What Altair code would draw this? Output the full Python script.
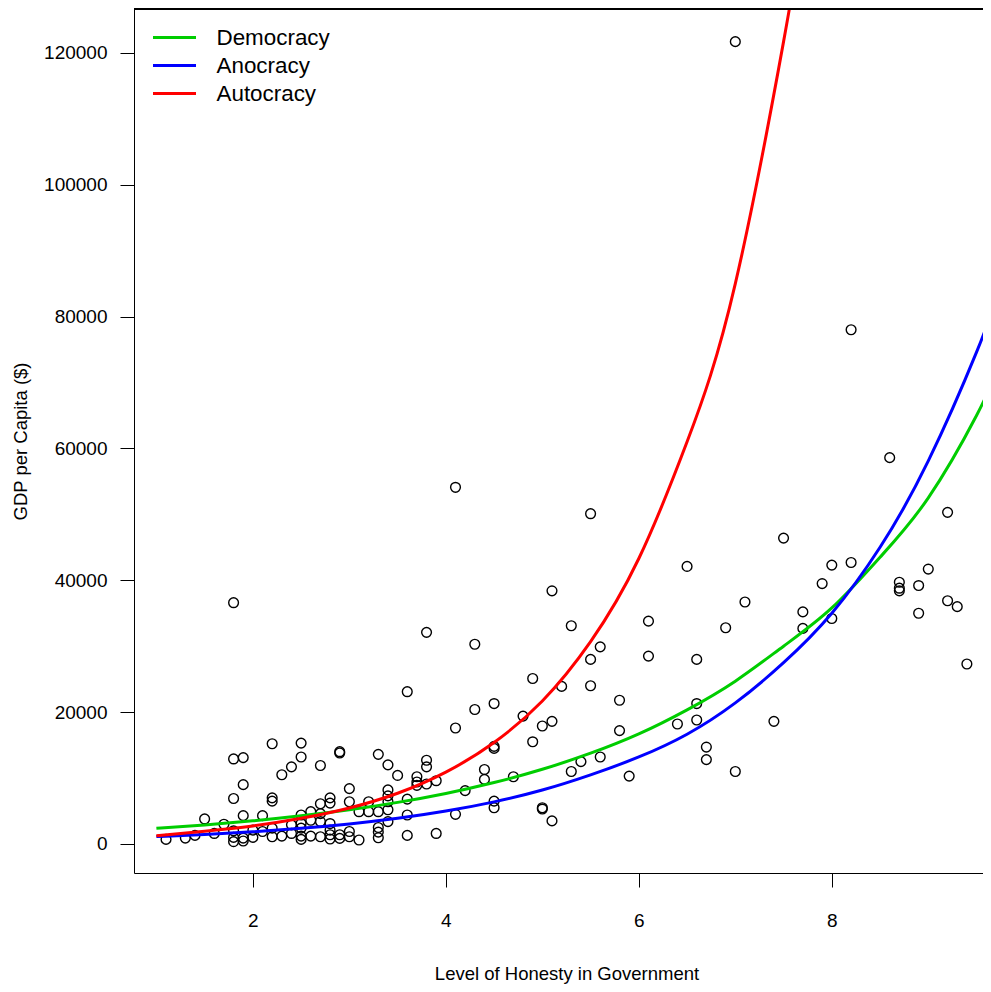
import altair as alt
import pandas as pd

# ---- scatter data ----
honesty = [
    1.1, 1.3, 1.4, 1.5, 1.6, 1.7,
    1.8, 1.8, 1.8, 1.8, 1.8, 1.8,
    1.9, 1.9, 1.9, 1.9, 1.9,
    2.0, 2.0,
    2.1, 2.1,
    2.2, 2.2, 2.2, 2.2, 2.2,
    2.3, 2.3,
    2.4, 2.4, 2.4,
    2.5, 2.5, 2.5, 2.5, 2.5, 2.5, 2.5,
    2.6, 2.6, 2.6,
    2.7, 2.7, 2.7, 2.7, 2.7,
    2.8, 2.8, 2.8, 2.8, 2.8, 2.8,
    2.9, 2.9, 2.9, 2.9,
    3.0, 3.0, 3.0, 3.0,
    3.1, 3.1,
    3.2, 3.2,
    3.3, 3.3, 3.3, 3.3, 3.3,
    3.4, 3.4, 3.4, 3.4, 3.4, 3.4,
    3.5,
    3.6, 3.6, 3.6, 3.6,
    3.7, 3.7, 3.7,
    3.8, 3.8, 3.8, 3.8,
    3.9, 3.9,
    4.1, 4.1, 4.1,
    4.2,
    4.3, 4.3,
    4.4, 4.4,
    4.5, 4.5, 4.5, 4.5, 4.5,
    4.7, 4.8,
    4.9, 4.9,
    5.0, 5.0, 5.0,
    5.1, 5.1, 5.1,
    5.2,
    5.3, 5.3,
    5.4,
    5.5, 5.5, 5.5,
    5.6, 5.6,
    5.8, 5.8,
    5.9,
    6.1, 6.1,
    6.4, 6.5,
    6.6, 6.6, 6.6,
    6.7, 6.7,
    6.9,
    7.0, 7.0,
    7.1, 7.4, 7.5,
    7.7, 7.7,
    7.9,
    8.0, 8.0,
    8.2, 8.2,
    8.6,
    8.7, 8.7, 8.7,
    8.9, 8.9,
    9.0,
    9.2, 9.2,
    9.3, 9.4,
]
gdp = [
    700, 900, 1300, 3800, 1600, 3000,
    36600, 12900, 6900, 2000, 1000, 350,
    13100, 9000, 4300, 900, 450,
    2100, 1000,
    4300, 1900,
    15200, 7000, 6500, 2400, 1100,
    10500, 1200,
    11700, 2900, 1600,
    15300, 13200, 4400, 3100, 2400, 1200, 700,
    4900, 3600, 1200,
    11900, 6100, 4600, 3400, 1100,
    7000, 6200, 3100, 2100, 1400, 750,
    14000, 13800, 1400, 850,
    8400, 6400, 1900, 1100,
    4900, 600,
    6400, 4900,
    13600, 4900, 2500, 1800, 950,
    12000, 8200, 7300, 6400, 5200, 3400,
    10400,
    23100, 6800, 4400, 1300,
    10200, 9400, 8900,
    32100, 12700, 11700, 9100,
    9600, 1600,
    54100, 17600, 4500,
    8100,
    30300, 20400,
    11300, 9800,
    21300, 14800, 14500, 6500, 5500,
    10200, 19400,
    25100, 15500,
    17900, 5500, 5300,
    38400, 18600, 3500,
    23900,
    33100, 11000,
    12500,
    50100, 28000, 24000,
    29900, 13200,
    21800, 17200,
    10300,
    33800, 28500,
    18200, 42100,
    28000, 21300, 18800,
    14700, 12800,
    32800,
    121700, 11000,
    36700, 18600, 46400,
    35200, 32700,
    39500,
    42300, 34200,
    78000, 42700,
    58600,
    39700, 38800, 38400,
    39200, 35000,
    41700,
    50300, 36900,
    36000, 27300,
]

# ---- fitted curves ----
curve_x = [1.0, 1.5, 2.0, 2.5, 3.0, 3.5, 4.0, 4.5, 5.0, 5.5,
           6.0, 6.5, 7.0, 7.5, 8.0, 8.5, 9.0, 9.5, 9.7]
democracy_fit = [2380, 2890, 3510, 4270, 5190, 6310, 7670, 9320, 11330, 13770,
                 16700, 20350, 24700, 30000, 35800, 43500, 52500, 65000, 71400]
anocracy_fit = [1130, 1450, 1850, 2375, 3040, 3890, 4990, 6390, 8180, 10480,
                13200, 16650, 21400, 27500, 35000, 45000, 58100, 74600, 82600]
auto_x = [1.0, 1.5, 2.0, 2.5, 3.0, 3.5, 4.0, 4.5, 5.0, 5.5,
          6.0, 6.5, 7.0, 7.5, 7.6]
autocracy_fit = [1260, 1940, 2740, 3900, 5470, 7700, 10900, 15400, 21700, 30700,
                 43300, 61000, 85000, 121700, 130600]

regimes = ["Democracy", "Anocracy", "Autocracy"]
colors = ["#00CD00", "#0000FF", "#FF0000"]
x_ticks = [2, 4, 6, 8]
y_ticks = [0, 20000, 40000, 60000, 80000, 100000, 120000]

pts = pd.DataFrame({"honesty": honesty, "gdp": gdp})
dem = pd.DataFrame({"honesty": curve_x, "gdp": democracy_fit, "regime": "Democracy"})
ano = pd.DataFrame({"honesty": curve_x, "gdp": anocracy_fit, "regime": "Anocracy"})
aut = pd.DataFrame({"honesty": auto_x, "gdp": autocracy_fit, "regime": "Autocracy"})

W, H = 849, 864
FONT = "Liberation Sans"

xscale = alt.Scale(domain=[0.768, 9.567], nice=False, zero=False)
yscale = alt.Scale(domain=[-4400, 126650], nice=False, zero=False)

xaxis = alt.Axis(values=x_ticks, tickSize=14, labelPadding=33, labelBaseline="middle",
                 title="Level of Honesty in Government", titleX=432.5, titleY=100,
                 titleBaseline="middle", titleAlign="center", titleFontSize=18.5)
yaxis = alt.Axis(values=y_ticks, format="d", tickSize=14, labelPadding=13,
                 title="GDP per Capita ($)", titleX=-113.5, titleY=432,
                 titleBaseline="middle", titleAlign="center", titleFontSize=18.5)

color_scale = alt.Scale(domain=regimes, range=colors)
# long horizontal line symbol (43 px) with a small nominal size so rows stay compact
legend = alt.Legend(title=None, orient="none", legendX=24, legendY=12,
                    symbolType="M-1.4333,0H1.4333", symbolSize=900, symbolStrokeWidth=3,
                    labelFontSize=22.4, labelFont=FONT, labelOffset=25.5, padding=0,
                    rowPadding=0, labelLimit=400, labelColor="black")

points = alt.Chart(pts).mark_point(shape="circle", filled=False, color="black",
                                   size=95, strokeWidth=1.4, opacity=1).encode(
    x=alt.X("honesty:Q", scale=xscale, axis=xaxis),
    y=alt.Y("gdp:Q", scale=yscale, axis=yaxis),
)


def curve(df):
    return alt.Chart(df).mark_line(strokeWidth=3, clip=True, interpolate="natural").encode(
        x=alt.X("honesty:Q", scale=xscale, axis=xaxis),
        y=alt.Y("gdp:Q", scale=yscale, axis=yaxis),
        color=alt.Color("regime:N", scale=color_scale, legend=legend),
    )


frame_top = alt.Chart(pts).mark_rule(color="black", strokeWidth=1).encode(
    x=alt.value(0), x2=alt.value(W), y=alt.value(0)
)

chart = alt.layer(
    points, curve(dem), curve(ano), curve(aut), frame_top
).properties(
    width=W, height=H,
    autosize=alt.AutoSizeParams(type="none"),
    padding={"left": 126, "top": 1, "right": 0, "bottom": 111},
    background="white",
).configure_view(stroke=None).configure_axis(
    grid=False, domainColor="black", tickColor="black", labelColor="black",
    titleColor="black", labelFont=FONT, titleFont=FONT, labelFontSize=19,
    titleFontWeight="normal", domainWidth=1, tickWidth=1,
)

chart.save("out.html", embed_options={"renderer": "svg", "actions": False})
